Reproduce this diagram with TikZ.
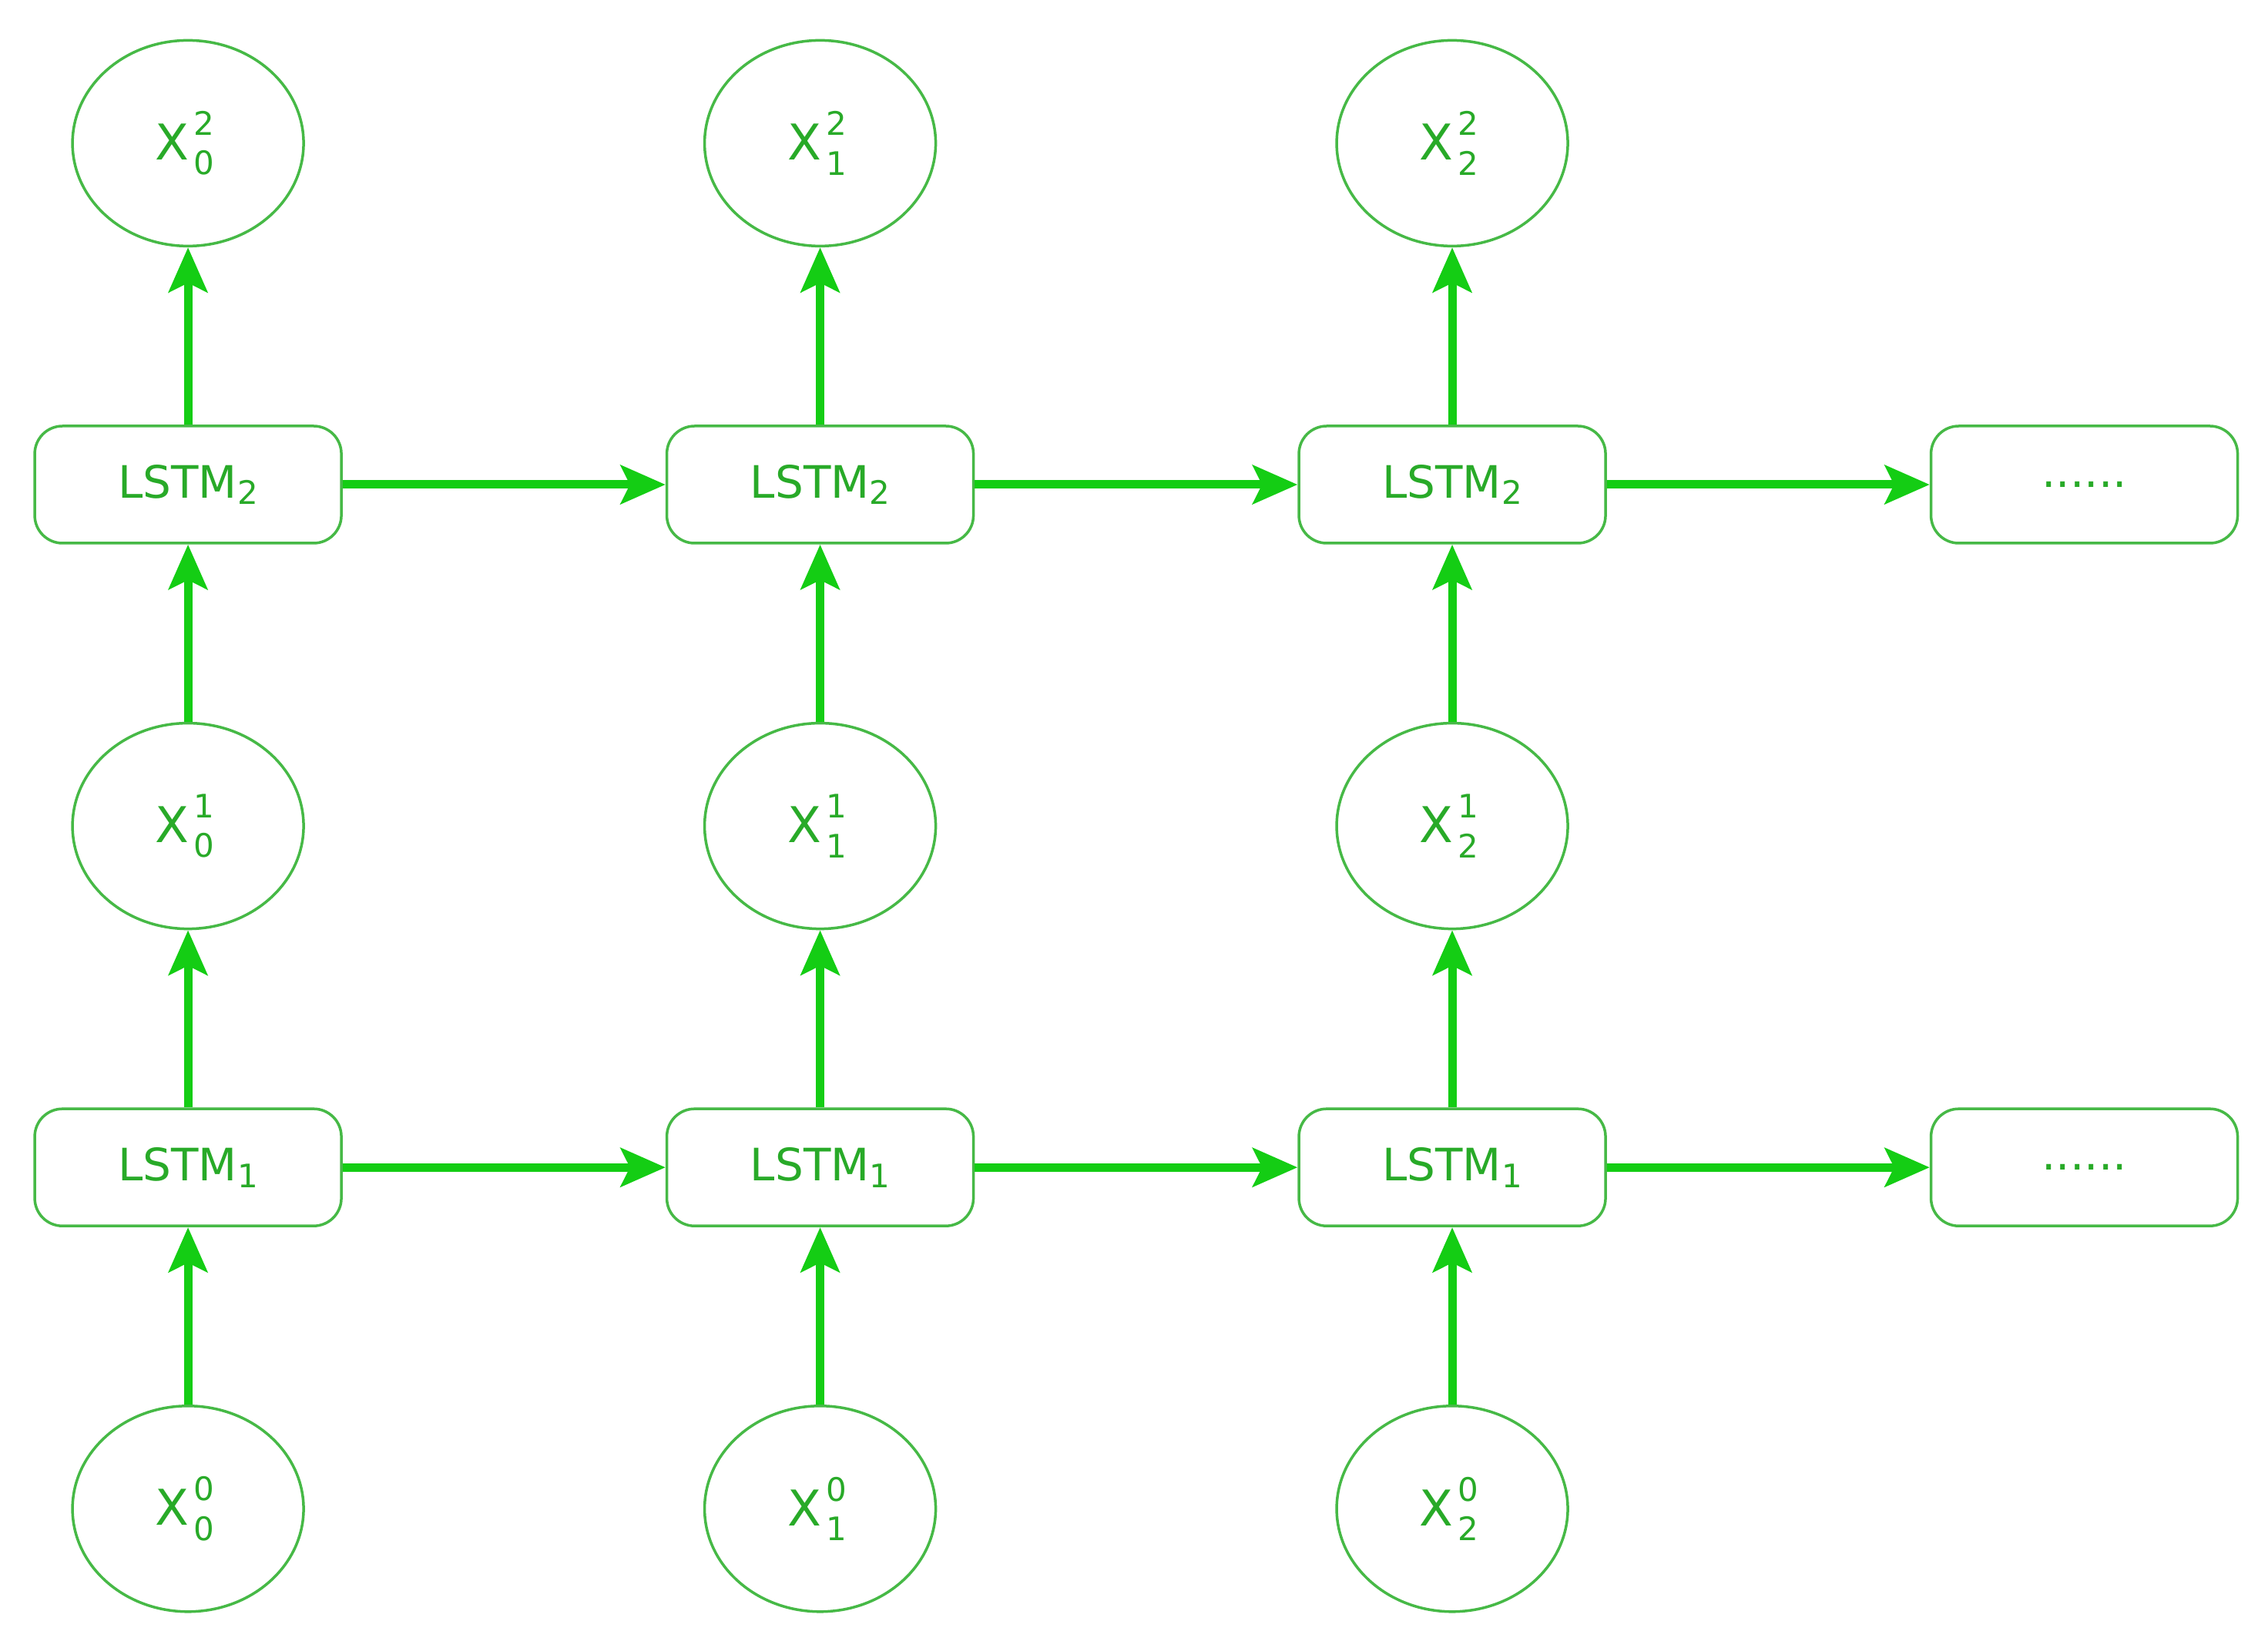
\documentclass[tikz,border=0pt]{standalone}
\usepackage{fontspec}
\setmainfont{DejaVu Sans}
\usetikzlibrary{arrows.meta,shapes.geometric}
\definecolor{gline}{RGB}{20,205,20}
\definecolor{gshape}{RGB}{70,185,70}
\definecolor{gtext}{RGB}{40,170,40}
\newcommand{\smallidx}[1]{{\fontsize{42}{46}\selectfont #1}}
\newcommand{\xnode}[2]{\kern10pt X\kern6pt\makebox[0pt][l]{\raisebox{0.5em}{\smallidx{#1}}}\raisebox{-0.3em}{\smallidx{#2}}\kern18pt}
\newcommand{\lstm}[1]{LSTM\raisebox{-0.15em}{\smallidx{#1}}}
\begin{document}
\begin{tikzpicture}[x=1.8776pt,y=-1.8776pt,
  ell/.style={ellipse,draw=gshape,line width=3.5pt,minimum width=300pt,minimum height=267pt,inner sep=0pt,text=gtext,font=\fontsize{64}{70}\selectfont},
  box/.style={rectangle,rounded corners=36pt,draw=gshape,line width=3.5pt,minimum width=398pt,minimum height=152pt,inner sep=0pt,text=gtext,font=\fontsize{58}{66}\selectfont},
  arr/.style={draw=gline,line width=11pt,-{Stealth[length=58pt,width=50pt,inset=12pt]}}]
\useasboundingbox (0,0) rectangle (1568,1139);
\fill[white] (0,0) rectangle (1568,1139);
\foreach \i/\x in {0/130,1/567,2/1004}{
  \node[ell] (t\i) at (\x,99) {\xnode{2}{\i}};
  \node[box] (b\i) at (\x,335) {\lstm{2}};
  \node[ell] (m\i) at (\x,571) {\xnode{1}{\i}};
  \node[box] (a\i) at (\x,807) {\lstm{1}};
  \node[ell] (z\i) at (\x,1043) {\xnode{0}{\i}};
  \draw[arr] (z\i) -- (a\i);
  \draw[arr] (a\i) -- (m\i);
  \draw[arr] (m\i) -- (b\i);
  \draw[arr] (b\i) -- (t\i);
}
\node[box] (b3) at (1441,335) {......};
\node[box] (a3) at (1441,807) {......};
\draw[arr] (b0) -- (b1); \draw[arr] (b1) -- (b2); \draw[arr] (b2) -- (b3);
\draw[arr] (a0) -- (a1); \draw[arr] (a1) -- (a2); \draw[arr] (a2) -- (a3);
\end{tikzpicture}
\end{document}
